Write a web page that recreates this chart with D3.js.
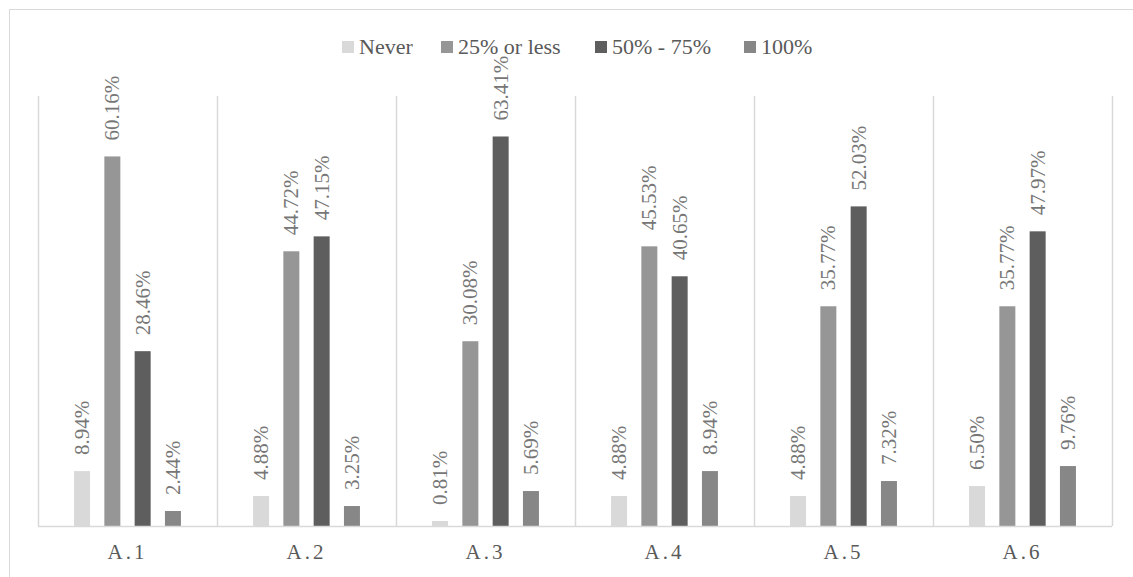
<!DOCTYPE html>
<html>
<head>
<meta charset="utf-8">
<script src="https://cdn.jsdelivr.net/npm/d3@7"></script>
</head>
<body>
<svg id="chart" width="1133" height="577"></svg>
<script>
// Categories and series
const categories = ["A.1", "A.2", "A.3", "A.4", "A.5", "A.6"];
const seriesNames = ["Never", "25% or less", "50% - 75%", "100%"];
const seriesColors = ["#d9d9d9", "#969696", "#5e5e5e", "#878787"];

// Percentages per series, one value per category
const never     = [8.94, 4.88, 0.81, 4.88, 4.88, 6.50];
const quarter   = [60.16, 44.72, 30.08, 45.53, 35.77, 35.77];
const half      = [28.46, 47.15, 63.41, 40.65, 52.03, 47.97];
const full      = [2.44, 3.25, 5.69, 8.94, 7.32, 9.76];
const seriesValues = [never, quarter, half, full];

d3.select("body").style("margin", "0").style("background", "#fff");
const svg = d3.select("#chart").style("display", "block");
const W = 1133, H = 577;
const plot = { left: 38, right: 1112, top: 96, bottom: 526 };
const FONT = "Liberation Serif";

// Outer frame
svg.append("rect")
  .attr("x", 9.5).attr("y", 9.5)
  .attr("width", W).attr("height", H)
  .attr("fill", "none").attr("stroke", "#d9d9d9").attr("stroke-width", 1);

const x0 = d3.scaleBand().domain(categories).range([plot.left, plot.right]);
const x1 = d3.scaleBand().domain(seriesNames)
  .range([0, x0.bandwidth()])
  .paddingInner(0.472).paddingOuter(1.19);
const y = d3.scaleLinear().domain([0, 70]).range([plot.bottom, plot.top]);

// Vertical separators between categories
const bounds = categories.map(c => x0(c)).concat([plot.right]);
svg.append("g").selectAll("line").data(bounds).join("line")
  .attr("x1", d => Math.round(d) + 0.5).attr("x2", d => Math.round(d) + 0.5)
  .attr("y1", plot.top).attr("y2", plot.bottom)
  .attr("stroke", "#d9d9d9").attr("stroke-width", 1.5);

// Bars and value labels
const rows = [];
categories.forEach((c, ci) => {
  seriesNames.forEach((s, si) => {
    rows.push({ cat: c, series: s, si, value: seriesValues[si][ci] });
  });
});

const g = svg.append("g");
g.selectAll("rect").data(rows).join("rect")
  .attr("x", d => x0(d.cat) + x1(d.series))
  .attr("y", d => y(d.value))
  .attr("width", x1.bandwidth())
  .attr("height", d => y(0) - y(d.value))
  .attr("fill", d => seriesColors[d.si]);

const labels = svg.append("g");
rows.forEach(d => {
  const cx = x0(d.cat) + x1(d.series) + x1.bandwidth() / 2 + 7;
  const cy = y(d.value) - 16;
  labels.append("text")
    .attr("transform", `translate(${cx},${cy}) rotate(-90)`)
    .style("font-family", FONT)
    .style("font-size", "21px")
    .style("fill", "#767676")
    .text(d.value.toFixed(2) + "%");
});

// Baseline
svg.append("line")
  .attr("x1", plot.left).attr("x2", plot.right)
  .attr("y1", plot.bottom + 0.5).attr("y2", plot.bottom + 0.5)
  .attr("stroke", "#d9d9d9").attr("stroke-width", 1.5);

// Category axis labels
const xAxis = d3.axisBottom(x0).tickSize(0).tickPadding(0);
const axisG = svg.append("g")
  .attr("transform", `translate(0,${plot.bottom})`)
  .call(xAxis);
axisG.select(".domain").remove();
axisG.attr("font-family", FONT).attr("font-size", 21);
axisG.selectAll("text")
  .attr("y", 33)
  .attr("dy", 0)
  .style("font-family", FONT)
  .style("font-size", "21px")
  .style("letter-spacing", "3px")
  .style("fill", "#595959");

// Legend
const legendX = [342, 441, 595, 744];
const legend = svg.append("g");
seriesNames.forEach((s, i) => {
  legend.append("rect")
    .attr("x", legendX[i]).attr("y", 41)
    .attr("width", 12).attr("height", 12)
    .attr("fill", seriesColors[i]);
  legend.append("text")
    .attr("x", legendX[i] + 17).attr("y", 54)
    .style("font-family", FONT)
    .style("font-size", "22px")
    .style("fill", "#595959")
    .text(s);
});
</script>
</body>
</html>
